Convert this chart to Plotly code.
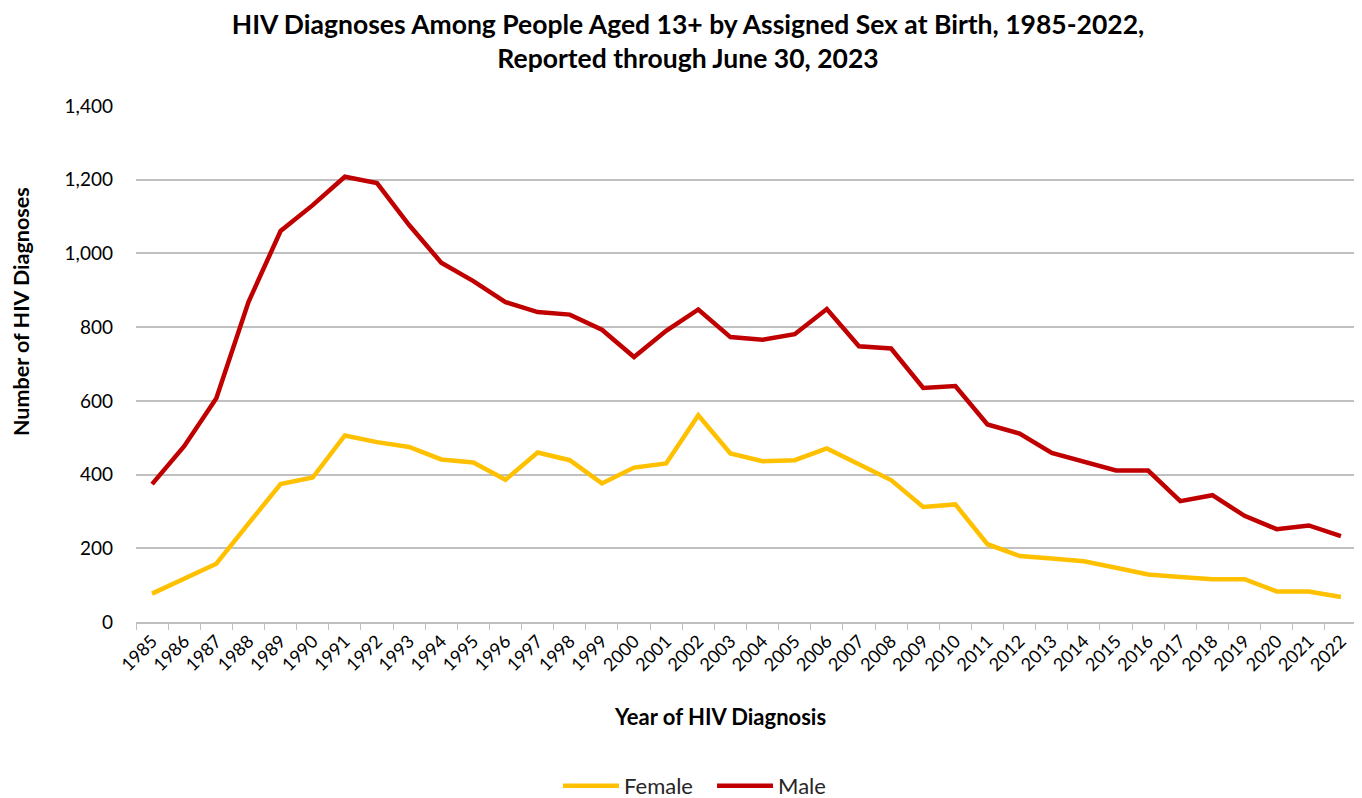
import plotly.graph_objects as go

years = [str(y) for y in range(1985, 2023)]
female = [77, 118, 158, 267, 374, 392, 506, 488, 475, 441, 433, 386, 460, 439, 376, 419, 430, 561,
          457, 436, 439, 471, 428, 385, 312, 319, 211, 179, 172, 165, 147, 129, 122, 116, 116, 83, 83, 68]
male = [374, 477, 607, 868, 1061, 1131, 1208, 1191, 1077, 975, 925, 868, 841, 834, 793, 719, 790, 848,
        773, 766, 781, 849, 748, 742, 635, 640, 536, 511, 459, 436, 411, 411, 328, 344, 288, 252, 262, 233]

FONT = "Lato"
OFF = 8  # page body margin
W, H = 1362 - OFF, 798 - OFF
L, R, T, B = 136 - OFF, 5, 106 - OFF, 176
PW, PH = W - L - R, H - T - B


def cy(py):
    """reference page y -> container fraction"""
    return 1 - (py - OFF) / H


fig = go.Figure()
fig.add_trace(go.Scatter(x=years, y=female, mode="lines", name="Female",
                         line=dict(color="#FFC000", width=4.5)))
fig.add_trace(go.Scatter(x=years, y=male, mode="lines", name="Male",
                         line=dict(color="#C00000", width=4.5)))

fig.update_layout(
    width=W, height=H,
    margin=dict(l=L, r=R, t=T, b=B, autoexpand=False),
    paper_bgcolor="white", plot_bgcolor="white",
    font=dict(family=FONT, color="#000000"),
    title=dict(text="<b>HIV Diagnoses Among People Aged 13+ by Assigned Sex at Birth, 1985-2022,<br>Reported through June 30, 2023</b>",
               x=(688 - OFF) / W, xanchor="center", yref="container", y=cy(34), yanchor="middle",
               font=dict(size=26.5, family=FONT, color="#000000")),
    showlegend=True,
    legend=dict(orientation="h", x=(476 - OFF) / W, xanchor="left", yref="container",
                y=cy(786), yanchor="middle", entrywidth=83, entrywidthmode="pixels",
                font=dict(size=22, family=FONT, color="#262626"), itemwidth=56),
)
fig.update_xaxes(type="category", tickson="boundaries", ticks="outside", ticklen=6,
                 tickcolor="#bfbfbf", showline=True, linecolor="#bfbfbf", linewidth=1.5,
                 showgrid=False, tickangle=-45, automargin=False,
                 tickfont=dict(size=18, family=FONT, color="#000000"),
                 range=[-0.5, 37.5])
fig.update_yaxes(range=[0, 1400], dtick=200, tickformat=",", showgrid=True, gridcolor="#c0c0c0",
                 gridwidth=1.5, zeroline=False, showline=False, ticks="", automargin=False,
                 ticklabelstandoff=22,
                 tickfont=dict(size=19, family=FONT, color="#000000"))

fig.add_annotation(text="<b>Year of HIV Diagnosis</b>", xref="paper", yref="paper",
                   x=(720 - 136) / PW, y=-(717 - 622) / PH, xanchor="center", yanchor="middle",
                   showarrow=False, font=dict(size=22, family=FONT, color="#000000"))
fig.add_annotation(text="<b>Number of HIV Diagnoses</b>", xref="paper", yref="paper",
                   x=-(136 - 21) / PW, y=(622 - 312) / PH, xanchor="center", yanchor="middle",
                   textangle=-90,
                   showarrow=False, font=dict(size=21.5, family=FONT, color="#000000"))

fig.write_html("out.html")
